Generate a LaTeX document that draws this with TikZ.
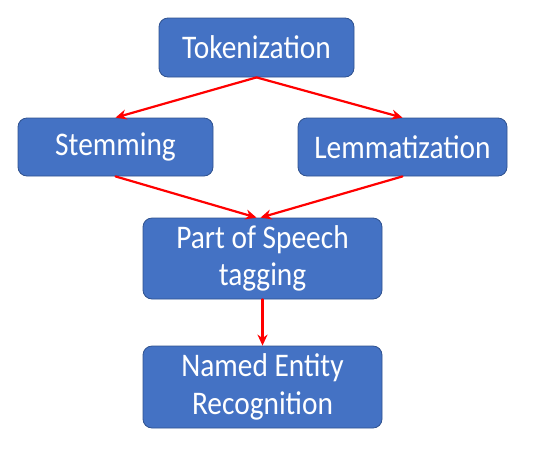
\documentclass[tikz,border=0pt]{standalone}
\usepackage{fontspec}
\setmainfont{Carlito}[FakeStretch=0.89]
\usetikzlibrary{arrows.meta}
\definecolor{boxfill}{RGB}{68,114,196}
\definecolor{boxline}{RGB}{47,82,143}

\begin{document}
\begin{tikzpicture}[>={Stealth[length=11pt,width=10pt]},x=1pt,y=-1pt,line cap=round,
		box/.style={rectangle,rounded corners=9pt,draw=boxline,line width=0.8pt,
			fill=boxfill,text=white,align=center,inner sep=0pt,
			font=\fontsize{33}{37.5}\selectfont},
		link/.style={->,draw=red,line width=2.2pt}]
		\useasboundingbox (0,0) rectangle (537,453);
		%\draw[help lines] (0,0) grid[step=50] (537,453);
		\node[box,minimum width=195pt,minimum height=59pt] (tok) at (256.5,47.5) {Tokenization};
		\node[box,minimum width=195pt,minimum height=58pt] (stem) at (115.5,147) {Stemming};
		\node[box,minimum width=209pt,minimum height=58pt] (lemma) at (402.5,147) {Lemmatization};
		\node[box,minimum width=239pt,minimum height=81pt] (pos) at (262.5,258.5) {Part of Speech\\tagging};
		\node[box,minimum width=239pt,minimum height=82pt] (ner) at (262.5,387) {Named Entity\\Recognition};
		\draw[link] (tok.south) -- (stem.north);
		\draw[link] (tok.south) -- (lemma.north);
		\draw[link] (stem.south) -- ([xshift=-6pt]pos.north);
		\draw[link] (lemma.south) -- ([xshift=-2pt]pos.north);
		\draw[link] (pos) -- (ner);
\end{tikzpicture}
\end{document}
